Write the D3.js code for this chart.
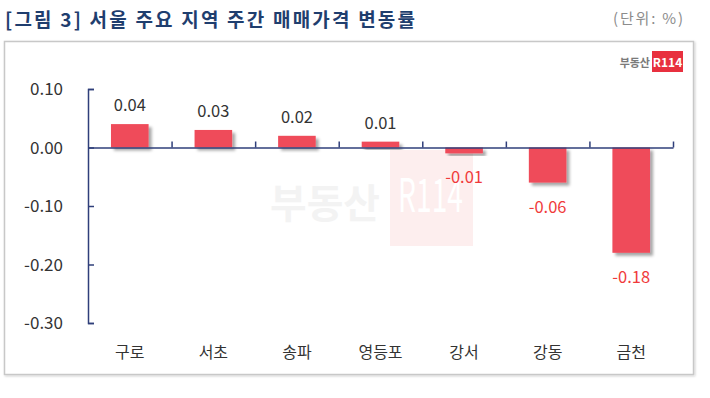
<!DOCTYPE html>
<html>
<head>
<meta charset="utf-8">
<script src="https://cdn.jsdelivr.net/npm/d3@7"></script>
<style>
  body { margin: 0; background: #fff; }
  svg { display: block; font-family: "Noto Sans CJK KR", "Noto Sans", sans-serif; }
</style>
</head>
<body>
<script>
var districts = ["구로", "서초", "송파", "영등포", "강서", "강동", "금천"];
var weeklyChange = [0.04, 0.03, 0.02, 0.01, -0.01, -0.06, -0.18];
var yTicks = [0.10, 0.00, -0.10, -0.20, -0.30];

var w = 710, h = 398;
var svg = d3.select("body").append("svg").attr("width", w).attr("height", h);

var defs = svg.append("defs");
var f = defs.append("filter").attr("id", "shadow")
  .attr("x", "-20%").attr("y", "-20%").attr("width", "160%").attr("height", "160%");
f.append("feDropShadow").attr("dx", 3).attr("dy", 3).attr("stdDeviation", 1.6)
  .attr("flood-color", "#000").attr("flood-opacity", 0.35);
var fb = defs.append("filter").attr("id", "boxshadow")
  .attr("x", "-5%").attr("y", "-5%").attr("width", "110%").attr("height", "110%");
fb.append("feDropShadow").attr("dx", 1).attr("dy", 1).attr("stdDeviation", 1)
  .attr("flood-color", "#000").attr("flood-opacity", 0.2);

// title
svg.append("text")
  .attr("x", 5).attr("y", 27)
  .attr("font-size", 19).attr("font-weight", "bold")
  .attr("fill", "#1f3e6e")
  .attr("textLength", 410).attr("lengthAdjust", "spacing")
  .text("[그림 3] 서울 주요 지역 주간 매매가격 변동률");

svg.append("text")
  .attr("x", 683).attr("y", 24)
  .attr("text-anchor", "end")
  .attr("font-size", 15).attr("fill", "#8c8c8c")
  .attr("textLength", 70).attr("lengthAdjust", "spacing")
  .text("(단위: %)");

// frame
svg.append("rect")
  .attr("x", 4.5).attr("y", 41.5).attr("width", 689).attr("height", 333)
  .attr("fill", "#fff").attr("stroke", "#c8c8c8").attr("stroke-width", 1.5)
  .attr("filter", "url(#boxshadow)");

// small logo
svg.append("text")
  .attr("x", 650).attr("y", 67).attr("text-anchor", "end")
  .attr("font-size", 11).attr("font-weight", "bold").attr("fill", "#7a7a7a")
  .text("부동산");
svg.append("rect")
  .attr("x", 652).attr("y", 51).attr("width", 31).attr("height", 21)
  .attr("fill", "#e8303f");
svg.append("text")
  .attr("x", 667.5).attr("y", 66.5).attr("text-anchor", "middle")
  .attr("font-size", 12).attr("font-weight", "bold").attr("fill", "#fff")
  .text("R114");

// watermark
svg.append("text")
  .attr("x", 270).attr("y", 218)
  .attr("font-size", 40).attr("font-weight", "bold").attr("fill", "#f3f3f3")
  .attr("textLength", 110).attr("lengthAdjust", "spacingAndGlyphs")
  .text("부동산");
svg.append("rect")
  .attr("x", 390).attr("y", 150).attr("width", 83).attr("height", 96)
  .attr("fill", "#fdeeee");
svg.append("text")
  .attr("x", 398).attr("y", 212)
  .attr("font-size", 46).attr("fill", "#fff")
  .attr("textLength", 65).attr("lengthAdjust", "spacingAndGlyphs")
  .text("R114");

var x = d3.scaleBand().domain(districts).range([88, 673]).paddingInner(0.55).paddingOuter(0.275);
var y = d3.scaleLinear().domain([-0.30, 0.10]).range([323, 89]);

// bars
svg.selectAll("rect.bar")
  .data(weeklyChange)
  .enter()
  .append("rect")
  .attr("class", "bar")
  .attr("x", function(d, i) { return x(districts[i]); })
  .attr("y", function(d) { return d >= 0 ? y(d) : y(0); })
  .attr("width", x.bandwidth())
  .attr("height", function(d) { return Math.abs(y(d) - y(0)); })
  .attr("fill", "#ef4b5a")
  .attr("filter", "url(#shadow)");

// y axis
var yAxis = d3.axisRight(y).tickValues(yTicks).tickSize(6).tickFormat("");
var gy = svg.append("g").attr("transform", "translate(88,0)").call(yAxis);
gy.select(".domain").attr("stroke", "#2f3f7a").attr("stroke-width", 1.5);
gy.selectAll(".tick line").attr("stroke", "#2f3f7a").attr("stroke-width", 1.5);

svg.selectAll("text.ylab")
  .data(yTicks)
  .enter()
  .append("text")
  .attr("class", "ylab")
  .attr("x", 63)
  .attr("y", function(d) { return y(d) + 6; })
  .attr("text-anchor", "end")
  .attr("font-size", 17)
  .attr("fill", "#333")
  .text(function(d) { return d3.format(".2f")(d).replace("−", "-"); });

// x axis line with category ticks
var xb = d3.scaleLinear().domain([0, districts.length]).range([88, 673]);
var gx = svg.append("g").attr("transform", "translate(0," + y(0) + ")")
  .call(d3.axisTop(xb).ticks(districts.length).tickSize(6).tickSizeOuter(0).tickFormat(""));
gx.select(".domain").attr("stroke", "#2f3f7a").attr("stroke-width", 1.5);
gx.selectAll(".tick line").attr("stroke", "#2f3f7a").attr("stroke-width", 1.5);
gx.selectAll(".tick").filter(function(d) { return d === 0; }).remove();

// category labels
svg.selectAll("text.cat")
  .data(districts)
  .enter()
  .append("text")
  .attr("class", "cat")
  .attr("x", function(d) { return x(d) + x.bandwidth() / 2; })
  .attr("y", 358)
  .attr("text-anchor", "middle")
  .attr("font-size", 16)
  .attr("fill", "#333")
  .text(function(d) { return d; });

// value labels
svg.selectAll("text.val")
  .data(weeklyChange)
  .enter()
  .append("text")
  .attr("class", "val")
  .attr("x", function(d, i) { return x(districts[i]) + x.bandwidth() / 2; })
  .attr("y", function(d) { return d >= 0 ? y(d) - 13 : y(d) + 30; })
  .attr("text-anchor", "middle")
  .attr("font-size", 16.5)
  .attr("fill", function(d) { return d >= 0 ? "#333" : "#f03a3a"; })
  .text(function(d) { return d3.format(".2f")(d).replace("−", "-"); });
</script>
</body>
</html>
